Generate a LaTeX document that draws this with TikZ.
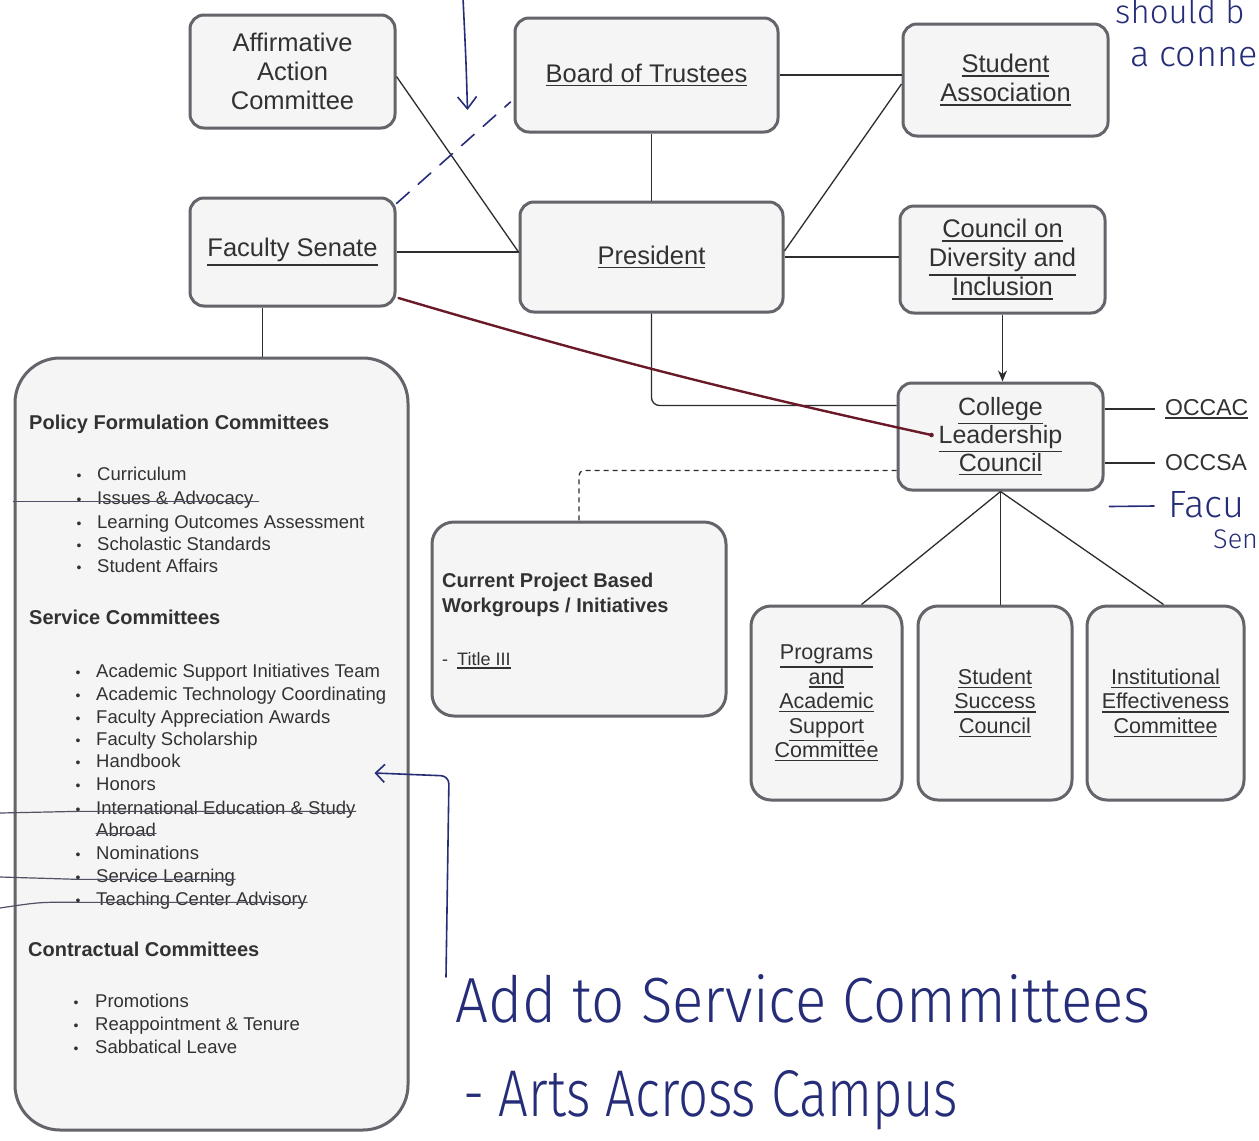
\documentclass[tikz,border=0pt]{standalone}
\usepackage{fontspec}
\setmainfont{Liberation Sans}
\newfontfamily\hand{Fira Sans}[UprightFont=* Light]
\usetikzlibrary{arrows.meta,calc}
\definecolor{boxgray}{RGB}{100,100,106}
\definecolor{boxfill}{RGB}{245,245,245}
\definecolor{txt}{RGB}{50,50,52}
\definecolor{conncol}{RGB}{45,45,48}
\definecolor{handblue}{RGB}{38,45,120}
\definecolor{maroon}{RGB}{105,25,40}
\definecolor{strikecol}{RGB}{78,82,100}
\newcommand\myul[1]{\setbox0=\hbox{#1}\leavevmode\rlap{\rule[\dimexpr-\dp0-3.6pt\relax]{\wd0}{1.5pt}}\box0}
\begin{document}
\begin{tikzpicture}[x=1pt,y=-1pt,
 box/.style={draw=boxgray, line width=3pt, fill=boxfill, rounded corners=14pt, align=center, text=txt, inner sep=0pt, font=\fontsize{25.5}{29}\selectfont},
 sbox/.style={box, rounded corners=20pt, font=\fontsize{21.5}{24.5}\selectfont},
 conn/.style={draw=conncol, line width=1.3pt},
 item/.style={anchor=base west, inner sep=0pt, text=txt, font=\fontsize{18.5}{22}\selectfont},
 bul/.style={anchor=base, inner sep=0pt, text=txt, font=\fontsize{14}{16}\selectfont},
 head/.style={anchor=base west, inner sep=0pt, text=txt, font=\bfseries\fontsize{20}{24}\selectfont},
 curtxt/.style={anchor=base west, inner sep=0pt, text=txt, font=\bfseries\fontsize{20}{25}\selectfont},
 occ/.style={anchor=west, inner sep=0pt, text=txt, font=\fontsize{23}{26}\selectfont},
 handline/.style={draw=handblue, line width=1.6pt, line cap=round, line join=round},
 handtxt/.style={text=handblue, inner sep=0pt, font=\hand},
 strike/.style={draw=strikecol, line width=1.2pt, line cap=round},
]
\fill[white] (0,0) rectangle (1259,1141);
\useasboundingbox (0,0) rectangle (1259,1141);
\clip (0,0) rectangle (1259,1141);

% ---- top boxes
\node[box, minimum width=205, minimum height=113] (aac) at (292.5,71.5) {Affirmative\\Action\\Committee};
\node[box, minimum width=263, minimum height=114] (bot) at (646.5,75) {\raisebox{-2pt}{\myul{Board of Trustees}}};
\node[box, minimum width=205, minimum height=112] (sa) at (1005.5,80) {\myul{Student}\\\myul{Association}};
\node[box, minimum width=205, minimum height=108] (fs) at (292.5,252) {\myul{Faculty Senate}};
\node[box, minimum width=263, minimum height=110] (pres) at (651.5,257) {\myul{President}};
\node[box, minimum width=205, minimum height=107] (cdi) at (1002.5,259.5) {\myul{Council on}\\\myul{Diversity and}\\\myul{Inclusion}};
\node[box, minimum width=205, minimum height=107, font=\fontsize{25}{28}\selectfont] (clc) at (1000.5,436.5) {\myul{College}\\\myul{Leadership}\\\myul{Council}};

% ---- lower boxes
\node[sbox, minimum width=151, minimum height=194] (pas) at (826.5,703) {\myul{Programs}\\\myul{and}\\\myul{Academic}\\\myul{Support}\\\myul{Committee}};
\node[sbox, minimum width=154, minimum height=194] (ssc) at (995,703) {\myul{Student}\\\myul{Success}\\\myul{Council}};
\node[sbox, minimum width=157, minimum height=194] (iec) at (1165.5,703) {\myul{Institutional}\\\myul{Effectiveness}\\\myul{Committee}};
\node[box, rounded corners=22pt, minimum width=294, minimum height=194] (cur) at (579,619) {};
\node[box, rounded corners=45pt, minimum width=393, minimum height=772] (big) at (211.5,744) {};

% ---- outside labels
\node[occ] (occac) at (1165,409) {\myul{OCCAC}};
\node[occ] (occsa) at (1165,463) {OCCSA};

% ---- connectors
\draw[conn] ($(aac.east)+(0,5)$) -- ($(pres.west)+(0,-5)$);
\draw[conn] (pres.north |- bot.south) -- (pres.north);
\draw[conn] (bot.east) -- (bot.east -| sa.west);
\draw[conn] ($(sa.west)+(0,4)$) -- ($(pres.east)+(0,-6)$);
\draw[conn] (fs.east) -- (fs.east -| pres.west);
\draw[conn] (pres.east) -- (pres.east -| cdi.west);
\draw[conn, -{Stealth[length=11pt,width=9pt]}] (cdi.south) -- (cdi.south |- clc.north);
\draw[conn, rounded corners=8pt] (pres.south) |- ($(clc.west)+(0,-31)$);
\draw[conn] (clc.east |- occac.west) -- ($(occac.west)+(-10,0)$);
\draw[conn] (clc.east |- occsa.west) -- ($(occsa.west)+(-10,0)$);
\draw[conn, dashed, dash pattern=on 5pt off 4pt, rounded corners=5pt] ($(clc.west)+(0,34)$) -| (cur.north);
\draw[conn] (clc.south) -- ($(pas.north)+(35,0)$);
\draw[conn] (clc.south) -- (clc.south |- ssc.north);
\draw[conn] (clc.south) -- ($(iec.north)+(-2,0)$);
\coordinate (fsb) at ($(fs.south)+(-30,0)$);
\draw[conn] (fsb) -- (fsb |- big.north);

% ---- big box contents
\node[head] (h1) at (29,429) {Policy Formulation Committees};
\foreach \t/\y [count=\i] in {Curriculum/480, Issues \& Advocacy/504, Learning Outcomes Assessment/528, Scholastic Standards/550, Student Affairs/572}{
  \node[bul] (pb\i) at (79,\y) {\textbullet};
  \node[item] (p\i) at (97,\y) {\t};
}
\node[head] (h2) at (29,624) {Service Committees};
\foreach \t/\y [count=\i] in {Academic Support Initiatives Team/677, Academic Technology Coordinating/700, Faculty Appreciation Awards/723, Faculty Scholarship/745, Handbook/767, Honors/790, International Education \& Study/814, Nominations/859, Service Learning/882, Teaching Center Advisory/905}{
  \node[bul] (sb\i) at (78,\y) {\textbullet};
  \node[item] (s\i) at (96,\y) {\t};
}
\node[item] (sab) at (96,836) {Abroad};
\node[head] (h3) at (28,956) {Contractual Committees};
\foreach \t/\y [count=\i] in {Promotions/1007, Reappointment \& Tenure/1030, Sabbatical Leave/1053}{
  \node[bul] (cb\i) at (76,\y) {\textbullet};
  \node[item] (c\i) at (95,\y) {\t};
}

% ---- current project box contents
\node[curtxt] (cur1) at (442,587) {Current Project Based};
\node[curtxt] (cur2) at (442,612) {Workgroups / Initiatives};
\node[item, font=\fontsize{18}{22}\selectfont] (cur3) at (442,665) {-\hspace{9pt}\myul{Title III}};

% ---- strike-throughs
\draw[strike] (big.west |- p2.mid) -- ($(p2.mid east)+(5,0)$);
\draw[strike] (0,813) -- (sb7.mid) -- (s7.mid east);
\draw[strike] (sab.mid west) -- (sab.mid east);
\draw[strike] (0,877) -- (sb9.mid) -- (s9.mid east);
\draw[strike] (0,908) .. controls (40,902) .. (sb10.mid) -- (s10.mid east);

% ---- handwritten annotations
\draw[maroon, line width=2.4pt, line cap=round] ($(fs.east)+(2,46)$) to[bend right=2] ($(clc.west)+(35,-1.5)$);
\fill[maroon] ($(clc.west)+(35,-1.5)$) circle (2.3pt);
\draw[handline, dash pattern=on 17pt off 12pt] ($(fs.north east)+(0,7)$) -- ($(bot.west)+(-3,27)$);
\coordinate (topin) at (463,-2);
\draw[handline, -{Straight Barb[length=12pt,width=19pt]}] (topin) .. controls (466,60) .. ($(bot.west)+(-46,35)$);
\coordinate (addin) at (446,977);
\draw[handline, rounded corners=8pt, -{Straight Barb[length=9pt,width=18pt]}] (addin) -- (449,776) -- ($(big.east)+(-35,29)$);

\node[handtxt, anchor=base west] (add1) at (455,1022) {\resizebox{695pt}{48pt}{Add to Service Committees}};
\node[handtxt, anchor=base west] (add2) at (463,1116) {\resizebox{495pt}{46pt}{- Arts Across Campus}};
\node[handtxt, anchor=base west, font=\hand\fontsize{33}{36}\selectfont] (shd) at (1115,23) {should b};
\node[handtxt, anchor=base west, font=\hand\fontsize{36}{40}\selectfont] (conx) at (1130,66) {a conne};
\node[handtxt, anchor=base west, font=\hand\fontsize{38}{42}\selectfont] (facu) at (1168,517) {Facu};
\node[handtxt, anchor=base west, font=\hand\fontsize{27}{30}\selectfont] (sen) at (1213,548) {Sen};
\draw[handline] ($(clc.east)+(5,70)$) -- ($(facu.base west)+(-14,-11)$);
\end{tikzpicture}
\end{document}
